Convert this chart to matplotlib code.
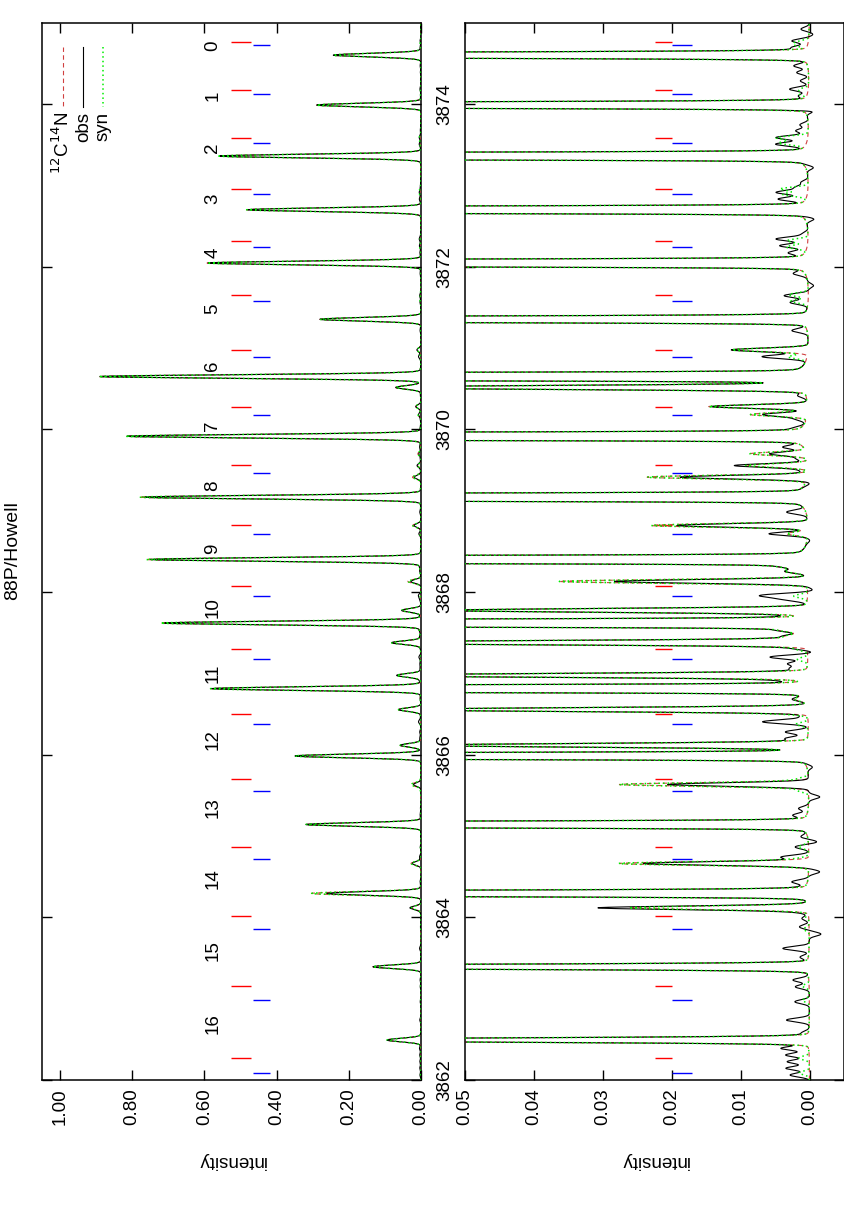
import numpy as np
import matplotlib
matplotlib.use("Agg")
import matplotlib.pyplot as plt

plt.rcParams['font.family'] = ['Liberation Sans', 'DejaVu Sans']

W, H, DPI = 845, 1207, 100

# ------------------------------------------------------------------ data
title = "88P/Howell"
wl_range = (3862.0, 3875.0)

# strong 12C14N R-branch lines (Angstrom), synthetic / observed peak intensity
r_pos = [3874.601, 3873.987, 3873.360, 3872.700, 3872.045, 3871.353, 3870.649,
         3869.915, 3869.166, 3868.400, 3867.618, 3866.812, 3865.984, 3865.141,
         3864.294, 3863.392, 3862.491]
r_syn = [0.243, 0.289, 0.560, 0.483, 0.593, 0.280, 0.893, 0.819, 0.780, 0.761,
         0.721, 0.583, 0.349, 0.319, 0.303, 0.133, 0.094]
r_obs = [0.243, 0.289, 0.558, 0.480, 0.590, 0.280, 0.890, 0.815, 0.765, 0.750,
         0.710, 0.580, 0.349, 0.319, 0.261, 0.133, 0.094]

# weaker 12C14N lines: position, synthetic and observed peak intensity
t_pos = [3870.977, 3870.515, 3870.280, 3870.182, 3869.699, 3869.555, 3869.412,
         3868.818, 3868.716, 3868.315, 3868.253, 3868.130, 3867.774, 3867.528,
         3867.454, 3867.377, 3866.975, 3866.680, 3866.554, 3866.115, 3865.633,
         3864.662, 3864.117]
t_syn = [0.0110, 0.0690, 0.0143, 0.0082, 0.0082, 0.0090, 0.0232,
         0.0227, 0.0030, 0.0028, 0.0028, 0.0360, 0.0530, 0.0028,
         0.0028, 0.0810, 0.0670, 0.0015, 0.0620, 0.0570, 0.0275,
         0.0275, 0.0260]
t_obs = [0.0111, 0.0690, 0.0140, 0.0063, 0.0053, 0.0106, 0.0184,
         0.0190, 0.0056, 0.0028, 0.0028, 0.0280, 0.0530, 0.0032,
         0.0032, 0.0810, 0.0670, 0.0018, 0.0620, 0.0570, 0.0205,
         0.0240, 0.0304]

# 13C14N lines (tick marks, two components) and their synthetic strengths
n_label = list(range(17))
label_pos = [3874.715, 3874.101, 3873.462, 3872.835, 3872.172, 3871.484, 3870.784,
             3870.047, 3869.310, 3868.536, 3867.811, 3867.000, 3866.189, 3865.354,
             3864.482, 3863.597, 3862.700]
red_tick = [3874.760, 3874.178, 3873.585, 3872.955, 3872.319, 3871.656, 3870.977,
            3870.276, 3869.564, 3868.827, 3868.072, 3867.299, 3866.505, 3865.698,
            3864.866, 3864.015, 3863.155, 3862.270]
blue_tick = [3874.724, 3874.129, 3873.520, 3872.888, 3872.242, 3871.574, 3870.891,
             3870.182, 3869.461, 3868.716, 3867.950, 3867.172, 3866.373, 3865.559,
             3864.715, 3863.855, 3862.979, 3862.086]
c13_red = [0.0015, 0.0012, 0.0045, 0.0040, 0.0030, 0.0028, 0.0000, 0.0000, 0.0000,
           0.0000, 0.0000, 0.0015, 0.0018, 0.0015, 0.0015, 0.0005, 0.0010, 0.0015]
c13_blue = [0.0015, 0.0012, 0.0040, 0.0035, 0.0030, 0.0025, 0.0027, 0.0000, 0.0000,
            0.0000, 0.0020, 0.0015, 0.0018, 0.0015, 0.0015, 0.0008, 0.0010, 0.0015]

# further observed features in the faint part of the spectrum (position, intensity)
x_pos = [3874.920, 3874.859, 3874.776, 3874.694, 3874.469, 3874.387, 3874.285,
         3874.183, 3874.101, 3873.916, 3873.744, 3873.671, 3873.588, 3873.507,
         3873.220, 3873.036, 3872.974, 3872.913, 3872.832, 3872.586, 3872.402,
         3872.340, 3872.258, 3872.172, 3871.914, 3871.767, 3871.644, 3871.561,
         3871.214, 3870.894, 3870.415, 3870.129, 3870.010, 3869.780, 3869.638,
         3869.494, 3869.330, 3868.982, 3868.630, 3868.020, 3867.958, 3867.909,
         3867.700, 3867.307, 3867.262, 3867.200, 3867.119, 3867.058, 3866.914,
         3866.472, 3866.404, 3866.279, 3866.198, 3865.849, 3865.480, 3865.338,
         3865.256, 3864.989, 3864.928, 3864.866, 3864.740, 3864.559, 3864.436,
         3864.359, 3864.068, 3863.986, 3863.883, 3863.794, 3863.618, 3863.511,
         3863.229, 3863.146, 3862.962, 3862.737, 3862.577, 3862.389, 3862.307,
         3862.225, 3862.144, 3862.061]
x_amp = [0.0012, -0.0006, 0.0024, 0.0022, 0.0020, 0.0017, 0.0012,
         0.0027, 0.0012, -0.0014, 0.0012, 0.0018, 0.0046, 0.0044,
         -0.0011, 0.0010, 0.0018, 0.0045, 0.0040, -0.0013, 0.0008,
         0.0046, 0.0040, 0.0024, 0.0017, -0.0008, 0.0035, 0.0026,
         0.0022, 0.0065, 0.0012, 0.0015, 0.0012, 0.0030, 0.0015,
         0.0010, -0.0006, 0.0028, -0.0004, -0.0008, 0.0066, 0.0030,
         0.0020, 0.0020, -0.0010, 0.0055, 0.0028, 0.0024, 0.0028,
         0.0010, 0.0066, 0.0033, 0.0032, -0.0008, -0.0016, 0.0014,
         0.0020, 0.0010, -0.0013, 0.0020, 0.0040, -0.0016, 0.0023,
         0.0012, 0.0012, 0.0010, 0.0014, -0.0017, 0.0038, 0.0012,
         0.0023, 0.0020, 0.0021, 0.0033, 0.0010, 0.0040, 0.0034,
         0.0032, 0.0034, 0.0028]

# ------------------------------------------------------------------ model
wl = np.arange(wl_range[0], wl_range[1] + 1e-9, 0.002)
SIG, FW, GAM = 0.022, 0.008, 0.05


def line(c, h, sig=SIG):
    d = wl - c
    return h * ((1 - FW) * np.exp(-0.5 * (d / sig) ** 2) + FW / (1 + (d / GAM) ** 2))


c12 = np.zeros_like(wl)
obs = np.zeros_like(wl)
for c, hs, ho in zip(r_pos + t_pos, r_syn + t_syn, r_obs + t_obs):
    c12 += line(c, hs)
    obs += line(c, ho)
syn = c12.copy()
for i in range(len(red_tick)):
    syn += line(red_tick[i], c13_red[i]) + line(blue_tick[i], c13_blue[i])
for c, a in zip(x_pos, x_amp):
    obs += a * np.exp(-0.5 * ((wl - c) / 0.024) ** 2)

# ------------------------------------------------------------------ figure
fig = plt.figure(figsize=(W / DPI, H / DPI), dpi=DPI)
y0 = (H - 1080) / H
hgt = (1080 - 22.7) / H
ax1 = fig.add_axes([42 / W, y0, (421 - 42) / W, hgt])
ax2 = fig.add_axes([465 / W, y0, (844 - 465) / W, hgt])

FS = 13.5
RED, GREEN = '#d04040', '#00ee00'
panels = [
    (ax1, (1.05, 0.0), [0.0, 0.2, 0.4, 0.6, 0.8, 1.0], (0.47, 0.525), (0.417, 0.466)),
    (ax2, (0.05, -0.005), [0.0, 0.01, 0.02, 0.03, 0.04, 0.05], (0.0199, 0.0225), (0.0171, 0.0199)),
]
for ax, xl, xt, rlim, blim in panels:
    ax.plot(c12, wl, color=RED, ls=(0, (4, 3)), lw=0.8, zorder=3)
    ax.plot(obs, wl, color='black', lw=0.8, zorder=4)
    ax.plot(syn, wl, color=GREEN, ls=(0, (1, 2)), lw=1.1, zorder=5)
    ax.hlines(red_tick, rlim[0], rlim[1], colors='#ff0000', lw=1.0)
    ax.hlines(blue_tick, blim[0], blim[1], colors='#0000ff', lw=1.0)
    ax.set_xlim(*xl)
    ax.set_ylim(*wl_range)
    ax.set_xticks(xt)
    ax.set_xticklabels([f"{v:.2f}" for v in xt], rotation=90, fontsize=FS)
    ax.tick_params(axis='x', direction='in', top=True, bottom=True, length=7.5,
                   width=1.0, pad=6)
    ax.set_yticks(np.arange(3862, 3875, 2))
    ax.tick_params(axis='y', direction='in', left=True, right=True, length=7.5,
                   width=1.0, labelleft=False, labelright=(ax is ax1), pad=11,
                   labelsize=FS)
    for sp in ax.spines.values():
        sp.set_linewidth(1.1)
    ax.set_xlabel('intensity', rotation=180, fontsize=FS)
    ax.xaxis.set_label_coords(0.5, -0.0685)

for lab in ax1.get_yticklabels():
    lab.set_rotation(90)
    lab.set_va('center')
    lab.set_ha('left')
ax2.set_yticklabels([])

# branch numbers
for n, p in zip(n_label, label_pos):
    ax1.text(0.577, p, str(n), rotation=90, ha='center', va='center', fontsize=FS)

# legend (drawn rotated like the rest of the page)
leg = [(r'$^{12}$C$^{14}$N', dict(color=RED, ls=(0, (4, 3)), lw=0.8), 0.0546),
       ('obs', dict(color='black', lw=0.8), 0.1090),
       ('syn', dict(color=GREEN, ls=(0, (1, 2)), lw=1.1), 0.1618)]
for txt, style, xf in leg:
    ax1.plot([xf, xf], [0.977, 0.920], transform=ax1.transAxes, **style)
    ax1.text(xf, 0.916, txt, transform=ax1.transAxes, rotation=90, ha='center',
             va='top', fontsize=FS)

fig.text(13 / W, 1 - 551 / H, title, rotation=90, ha='center', va='center', fontsize=14)

fig.savefig('out.png', dpi=DPI)
